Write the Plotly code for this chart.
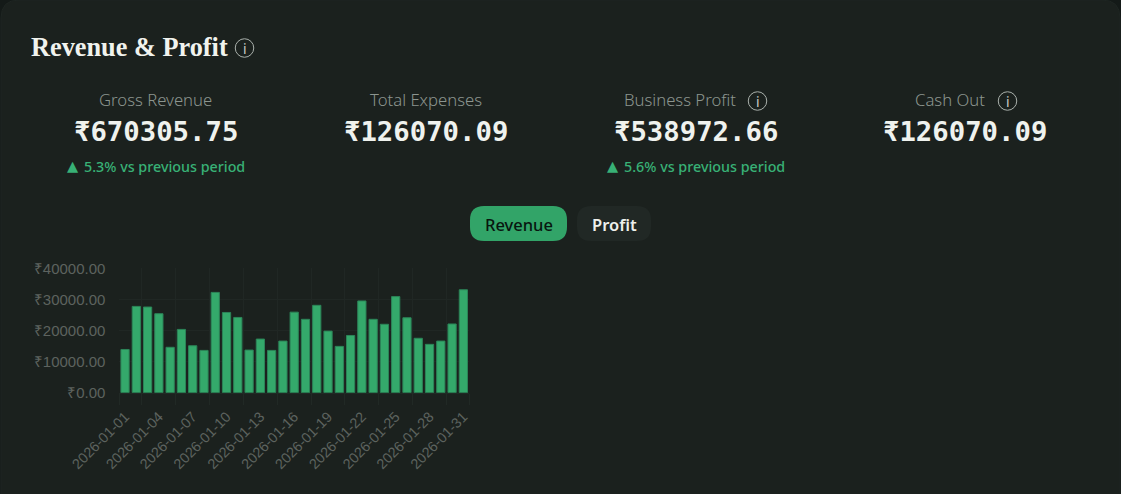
import plotly.graph_objects as go

W, H = 1121, 494

dates = [f"2026-01-{d:02d}" for d in range(1, 32)]
revenue = [13900, 27750, 27550, 25400, 14600, 20350, 15100, 13600, 32250, 25800, 24200,
           13700, 17250, 13600, 16600, 25900, 23600, 28100, 19800, 14900, 18400, 29500,
           23600, 22000, 30900, 24100, 17500, 15550, 16600, 22100, 33100]
x_tick_labels = dates[::3]
y_ticks = [0, 10000, 20000, 30000, 40000]
y_tick_labels = ["₹0.00", "₹10000.00", "₹20000.00", "₹30000.00", "₹40000.00"]
grid_boundaries = [-0.5, 1.5, 4.5, 7.5, 10.5, 13.5, 16.5, 19.5, 22.5, 25.5, 28.5, 30.5]

kpi_labels = ["Gross Revenue", "Total Expenses", "Business Profit", "Cash Out"]
kpi_values = ["₹670305.75", "₹126070.09", "₹538972.66", "₹126070.09"]
kpi_deltas = ["5.3% vs previous period", "", "5.6% vs previous period", ""]

def px(v): return v / W
def py(v): return 1 - v / H

fig = go.Figure()
fig.add_trace(go.Bar(x=dates, y=revenue, marker=dict(color="#34a96b", line=dict(color="#2c8458", width=1)),
                     xaxis="x", yaxis="y", showlegend=False))
fig.add_trace(go.Scatter(x=[-0.5, 30.5], y=[0, 0], mode="lines", line=dict(width=0), opacity=0,
                         xaxis="x2", yaxis="y", showlegend=False, hoverinfo="skip"))

def rrect(x0, y0, x1, y1, r):
    X0, X1 = px(x0), px(x1)
    Y0, Y1 = py(y0), py(y1)
    rx, ry = r / W, r / H
    return (f"M {X0+rx} {Y0} L {X1-rx} {Y0} Q {X1} {Y0} {X1} {Y0-ry} L {X1} {Y1+ry} Q {X1} {Y1} {X1-rx} {Y1} "
            f"L {X0+rx} {Y1} Q {X0} {Y1} {X0} {Y1+ry} L {X0} {Y0-ry} Q {X0} {Y0} {X0+rx} {Y0} Z")

shapes = [
    dict(type="path", xref="paper", yref="paper", path=rrect(1, 0, 1120, 520, 18),
         fillcolor="#1b211e", line=dict(color="#1e2522", width=1), layer="below"),
    dict(type="path", xref="paper", yref="paper", path=rrect(470, 206, 567, 241, 14),
         fillcolor="#32a468", line=dict(width=0), layer="below"),
    dict(type="path", xref="paper", yref="paper", path=rrect(577, 206, 651, 241, 14),
         fillcolor="#212825", line=dict(width=0), layer="below"),
]
annotations = []

def text(x, y, s, size, color, family, anchor="center", weight=None):
    f = dict(size=size, color=color, family=family)
    if weight: f["weight"] = weight
    annotations.append(dict(x=px(x), y=py(y), xref="paper", yref="paper", text=s, showarrow=False,
                            xanchor=anchor, yanchor="middle", font=f, borderpad=0, borderwidth=0))

def info(cx, cy, d=18.5):
    shapes.append(dict(type="circle", xref="paper", yref="paper", x0=px(cx - d/2), x1=px(cx + d/2),
                       y0=py(cy + d/2), y1=py(cy - d/2), line=dict(color="#a9b0ab", width=1), layer="above"))
    text(cx, cy, "i", 14, "#c4cac6", "Noto Sans")

text(31, 47.5, "Revenue &amp; Profit", 26.3, "#f1f3ee", "Liberation Serif", "left", 700)
info(244.5, 48)

label_cx = [155.5, 425.5, 680, 950]
value_cx = [155.5, 425.5, 695.5, 965.5]
for i in range(4):
    text(label_cx[i], 99.5, kpi_labels[i], 16.7, "#8c958f", "Noto Sans", weight=300)
    text(value_cx[i], 131.5, kpi_values[i], 27.3, "#eff2ee", "DejaVu Sans Mono", weight=700)
    if kpi_deltas[i]:
        text(value_cx[i] + 8.5, 166.5, kpi_deltas[i], 14.3, "#38b176", "Noto Sans", weight=500)
        text(value_cx[i] - 83, 166, "▲", 14.5, "#38b176", "DejaVu Sans")
info(757.5, 101)
info(1007.5, 101)
text(518.5, 224, "Revenue", 16.5, "#08160f", "Noto Sans", weight=500)
text(614, 224, "Profit", 16.5, "#eef0ec", "Noto Sans", weight=600)

fig.update_layout(
    width=W, height=H, autosize=False, margin=dict(l=0, r=0, t=0, b=0),
    paper_bgcolor="#141a18", plot_bgcolor="rgba(0,0,0,0)", bargap=0.27,
    shapes=shapes, annotations=annotations, showlegend=False,
    xaxis=dict(domain=[px(119.4), px(469)], type="category", tickmode="array", tickvals=x_tick_labels,
               ticktext=x_tick_labels, tickangle=-45, ticks="", showgrid=False, zeroline=False,
               showline=True, linecolor="#212925", linewidth=1, ticklabelstandoff=9,
               tickfont=dict(family="Liberation Sans", size=14.4, color="#5d635f"), anchor="y",
               range=[-0.5, 30.5], automargin=False, layer="above traces"),
    xaxis2=dict(domain=[px(119.4), px(469)], overlaying="x", type="linear", range=[-0.5, 30.5],
                tickmode="array", tickvals=grid_boundaries, ticktext=[""] * len(grid_boundaries),
                side="bottom", anchor="y", ticks="outside", ticklen=11, tickwidth=1, tickcolor="#212925",
                showgrid=True, gridcolor="#202724", gridwidth=1, zeroline=False, showline=False),
    yaxis=dict(domain=[py(392.7), py(268.3)], range=[0, 40000], tickmode="array", tickvals=y_ticks,
               ticktext=y_tick_labels, ticks="", showgrid=True, gridcolor="#202724", gridwidth=1,
               zeroline=False, showline=False, automargin=False, ticklabelstandoff=13,
               tickfont=dict(family="Liberation Sans", size=15, color="#5d635f")),
)

fig.write_html("out.html", config=dict(displayModeBar=False),
               post_script="document.body.style.margin='0';document.body.style.background='#141a18';document.body.style.overflow='hidden';")
